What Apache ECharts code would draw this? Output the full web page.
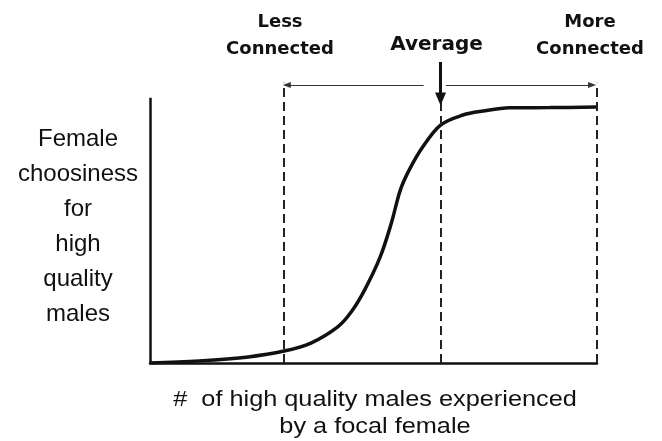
<!DOCTYPE html>
<html>
<head>
<meta charset="utf-8">
<script src="https://cdn.jsdelivr.net/npm/echarts@6/dist/echarts.min.js"></script>
<style>
  html, body { margin: 0; padding: 0; background: #fff; }
  #main { width: 662px; height: 441px; }
</style>
</head>
<body>
<div id="main"></div>
<script>
// # of high quality males experienced (arbitrary units)
var experienced = [0, 11, 22, 30, 36, 42, 45, 48, 51.5, 54, 56, 58, 61, 65, 70, 74.5, 80.5, 89.5, 100];
// female choosiness for high quality males (arbitrary units)
var choosiness = [0, 0.8, 2.3, 4.5, 7.5, 13.6, 19.2, 27.5, 40, 52.8, 65.2, 72.8, 81.4, 89.7, 93.5, 95, 96.2, 96.3, 96.5];
// less connected / average / more connected positions on x
var markX = [30, 65, 100];
var dashTop = [105.7, 98.5, 105.7];
var yAxisTop = 100;
var spanY = 104.8;
var downArrowY = [113.5, 99.5];

var myChart = echarts.init(document.getElementById('main'));

var dark = '#111';
var dashStyle = { color: '#222', width: 2, type: [9, 5] };

var lines = [];
// y axis drawn as a line so the grid can hold the arrows above it
lines.push([
    { coord: [0, 0], symbol: 'none', lineStyle: { color: dark, width: 2.5, type: 'solid' } },
    { coord: [0, yAxisTop], symbol: 'none' }
]);
// dashed verticals
markX.forEach(function (x, i) {
    lines.push([
        { coord: [x, 0], symbol: 'none', lineStyle: dashStyle },
        { coord: [x, dashTop[i]], symbol: 'none' }
    ]);
});
// thin span arrows
lines.push([
    { coord: [61.2, spanY], symbol: 'none', lineStyle: { color: '#333', width: 1, type: 'solid' } },
    { coord: [30.6, spanY], symbol: 'triangle', symbolSize: [6, 8] }
]);
lines.push([
    { coord: [66.2, spanY], symbol: 'none', lineStyle: { color: '#333', width: 1, type: 'solid' } },
    { coord: [98.9, spanY], symbol: 'triangle', symbolSize: [6, 8] }
]);
// "Average" down arrow
lines.push([
    { coord: [markX[1], downArrowY[0]], symbol: 'none', lineStyle: { color: dark, width: 3, type: 'solid' } },
    { coord: [markX[1], downArrowY[1]], symbol: 'triangle', symbolSize: [11, 13] }
]);

var curve = experienced.map(function (x, i) { return [x, choosiness[i]]; });

myChart.setOption({
    animation: false,
    grid: { left: 150, right: 65, top: 58, bottom: 78 },
    xAxis: {
        type: 'value', min: 0, max: 100,
        axisLine: { show: true, lineStyle: { color: dark, width: 2.5 } },
        axisTick: { show: false }, axisLabel: { show: false }, splitLine: { show: false }
    },
    yAxis: {
        type: 'value', min: 0, max: 115,
        axisLine: { show: false },
        axisTick: { show: false }, axisLabel: { show: false }, splitLine: { show: false }
    },
    series: [{
        type: 'line',
        data: curve,
        smooth: 0.35,
        showSymbol: false,
        lineStyle: { color: dark, width: 3.5 },
        silent: true,
        markLine: {
            silent: true,
            symbol: ['none', 'none'],
            label: { show: false },
            emphasis: { disabled: true },
            data: lines
        }
    }],
    graphic: [
        {
            type: 'text', x: 280, y: 35.5,
            style: { text: 'Less\nConnected', font: 'bold 18px "DejaVu Sans"', fill: dark, align: 'center', verticalAlign: 'middle', lineHeight: 27 }
        },
        {
            type: 'text', x: 590, y: 35.5,
            style: { text: 'More\nConnected', font: 'bold 18px "DejaVu Sans"', fill: dark, align: 'center', verticalAlign: 'middle', lineHeight: 27 }
        },
        {
            type: 'text', x: 436.5, y: 45,
            style: { text: 'Average', font: 'bold 20px "DejaVu Sans"', fill: dark, align: 'center', verticalAlign: 'middle' }
        },
        {
            type: 'text', x: 78, y: 227,
            style: { text: 'Female\nchoosiness\nfor\nhigh\nquality\nmales', font: '24px "Liberation Sans"', fill: dark, align: 'center', verticalAlign: 'middle', lineHeight: 35 }
        },
        {
            type: 'text', x: 375, y: 413.5, scaleX: 1.15,
            style: { text: '#  of high quality males experienced\nby a focal female', font: '22px "Liberation Sans"', fill: dark, align: 'center', verticalAlign: 'middle', lineHeight: 27 }
        }
    ]
});
</script>
</body>
</html>
